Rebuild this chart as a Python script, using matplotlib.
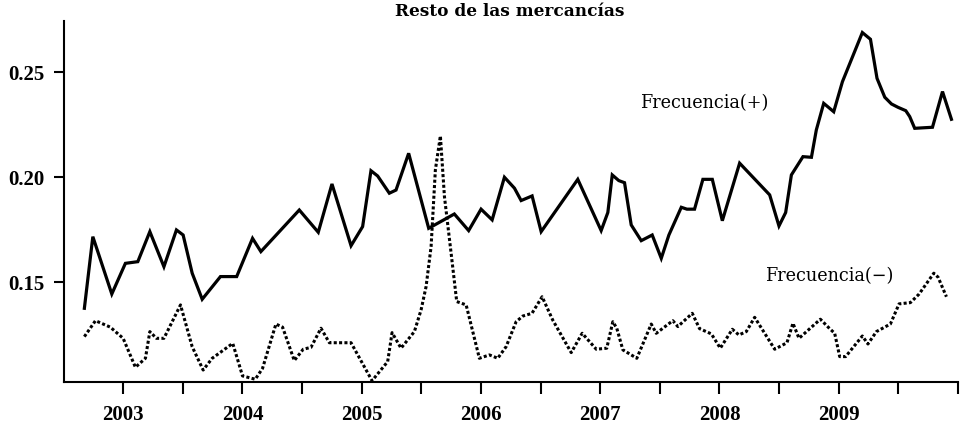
import matplotlib
matplotlib.use("Agg")
import matplotlib.pyplot as plt
from matplotlib.ticker import FixedLocator, NullFormatter

# ---- data ----
freq_pos_t = [2002.675, 2002.746, 2002.905, 2003.019, 2003.123, 2003.224, 2003.342, 2003.447,
              2003.503, 2003.579, 2003.663, 2003.816, 2003.952, 2004.085, 2004.155, 2004.477,
              2004.636, 2004.751, 2004.911, 2005.008, 2005.078, 2005.134, 2005.232, 2005.288,
              2005.394, 2005.562, 2005.777, 2005.897, 2006.001, 2006.094, 2006.197, 2006.281,
              2006.337, 2006.429, 2006.505, 2006.812, 2007.008, 2007.064, 2007.101, 2007.156,
              2007.204, 2007.260, 2007.344, 2007.436, 2007.512, 2007.576, 2007.680, 2007.727,
              2007.791, 2007.861, 2007.940, 2008.024, 2008.169, 2008.421, 2008.499, 2008.555,
              2008.603, 2008.700, 2008.771, 2008.812, 2008.874, 2008.958, 2009.031, 2009.198,
              2009.266, 2009.321, 2009.386, 2009.442, 2009.497, 2009.562, 2009.595, 2009.637,
              2009.786, 2009.870, 2009.945]
freq_pos = [0.1377, 0.1718, 0.1445, 0.1591, 0.1599, 0.1742, 0.1575, 0.1750,
            0.1726, 0.1544, 0.1420, 0.1528, 0.1528, 0.1710, 0.1647, 0.1845,
            0.1739, 0.1969, 0.1675, 0.1766, 0.2032, 0.2007, 0.1925, 0.1940,
            0.2115, 0.1758, 0.1826, 0.1747, 0.1849, 0.1798, 0.2001, 0.1949,
            0.1890, 0.1912, 0.1742, 0.1991, 0.1747, 0.1833, 0.2012, 0.1985,
            0.1975, 0.1774, 0.1699, 0.1726, 0.1615, 0.1726, 0.1858, 0.1849,
            0.1849, 0.1991, 0.1991, 0.1794, 0.2068, 0.1917, 0.1769, 0.1833,
            0.2012, 0.2099, 0.2096, 0.2226, 0.2353, 0.2313, 0.2456, 0.2690,
            0.2658, 0.2472, 0.2382, 0.2350, 0.2334, 0.2318, 0.2290, 0.2234,
            0.2239, 0.2409, 0.2277]

freq_neg_t = [2002.675, 2002.768, 2002.893, 2003.000, 2003.103, 2003.187, 2003.224, 2003.279,
              2003.342, 2003.481, 2003.579, 2003.671, 2003.747, 2003.919, 2004.001, 2004.108,
              2004.169, 2004.281, 2004.337, 2004.435, 2004.510, 2004.575, 2004.659, 2004.729,
              2004.911, 2005.087, 2005.218, 2005.255, 2005.330, 2005.442, 2005.498, 2005.540,
              2005.582, 2005.618, 2005.660, 2005.694, 2005.750, 2005.797, 2005.876, 2005.987,
              2006.071, 2006.141, 2006.211, 2006.295, 2006.351, 2006.428, 2006.513, 2006.602,
              2006.757, 2006.849, 2006.967, 2007.055, 2007.106, 2007.139, 2007.190, 2007.307,
              2007.428, 2007.470, 2007.609, 2007.651, 2007.772, 2007.833, 2007.932, 2008.007,
              2008.108, 2008.163, 2008.225, 2008.295, 2008.463, 2008.566, 2008.616, 2008.667,
              2008.846, 2008.924, 2008.966, 2009.008, 2009.058, 2009.198, 2009.245, 2009.316,
              2009.433, 2009.506, 2009.601, 2009.674, 2009.797, 2009.833, 2009.903]
freq_neg = [0.1242, 0.1318, 0.1287, 0.1234, 0.1096, 0.1139, 0.1266, 0.1234,
            0.1234, 0.1393, 0.1194, 0.1083, 0.1139, 0.1210, 0.1055, 0.1039,
            0.1091, 0.1302, 0.1287, 0.1128, 0.1182, 0.1191, 0.1282, 0.1213,
            0.1213, 0.1032, 0.1123, 0.1261, 0.1187, 0.1266, 0.1369, 0.1480,
            0.1670, 0.2036, 0.2198, 0.1909, 0.1639, 0.1409, 0.1393, 0.1139,
            0.1155, 0.1139, 0.1194, 0.1313, 0.1340, 0.1353, 0.1432, 0.1321,
            0.1166, 0.1258, 0.1182, 0.1187, 0.1313, 0.1282, 0.1179, 0.1139,
            0.1302, 0.1258, 0.1318, 0.1290, 0.1353, 0.1280, 0.1255, 0.1187,
            0.1277, 0.1250, 0.1266, 0.1334, 0.1182, 0.1213, 0.1306, 0.1234,
            0.1325, 0.1280, 0.1258, 0.1147, 0.1147, 0.1245, 0.1207, 0.1266,
            0.1302, 0.1398, 0.1404, 0.1445, 0.1544, 0.1525, 0.1432]

year_ticks = [2003, 2004, 2005, 2006, 2007, 2008, 2009]
year_labels = ["2003", "2004", "2005", "2006", "2007", "2008", "2009"]
half_ticks = [2003.5, 2004.5, 2005.5, 2006.5, 2007.5, 2008.5, 2009.5, 2010.0]
y_ticks = [0.15, 0.20, 0.25]
y_labels = ["0.15", "0.20", "0.25"]
title = "Resto de las mercancías"
label_pos = "Frecuencia(+)"
label_neg = "Frecuencia(−)"

plt.rcParams['font.family'] = ['DejaVu Serif']

fig = plt.figure(figsize=(9.68, 4.32), dpi=100)
ax = fig.add_axes([63.5 / 968, 50 / 432, (958 - 63.5) / 968, (382 - 21) / 432])

ax.plot(freq_pos_t, freq_pos, color='black', lw=2.3, solid_joinstyle='miter')
ax.plot(freq_neg_t, freq_neg, color='black', lw=2.2, linestyle=(0, (1.0, 0.75)),
        dash_capstyle='butt')

ax.set_xlim(2002.5, 2010.0)
ax.set_ylim(0.1026, 0.2745)

ax.xaxis.set_major_locator(FixedLocator(year_ticks))
ax.set_xticklabels(year_labels)
ax.xaxis.set_minor_locator(FixedLocator(half_ticks))
ax.xaxis.set_minor_formatter(NullFormatter())
ax.set_yticks(y_ticks)
ax.set_yticklabels(y_labels)

for s in ['top', 'right']:
    ax.spines[s].set_visible(False)
for s in ['left', 'bottom']:
    ax.spines[s].set_linewidth(1.5)

ax.tick_params(axis='x', which='both', direction='out', length=8.5, width=1.5, pad=8)
ax.tick_params(axis='y', which='major', direction='out', length=7.5, width=1.5, pad=6)
for lab in ax.get_xticklabels() + ax.get_yticklabels():
    lab.set_fontfamily(['Liberation Serif'])
    lab.set_fontweight('bold')
    lab.set_fontsize(15)

fig.text(510 / 968, 1 - 12 / 432, title, ha='center', va='center', fontsize=12.2,
         fontweight='bold')
ax.text(2007.338, 0.2355, label_pos, ha='left', va='center', fontsize=12.7)
ax.text(2008.379, 0.1531, label_neg, ha='left', va='center', fontsize=12.7)

fig.savefig("out.png", dpi=100)
